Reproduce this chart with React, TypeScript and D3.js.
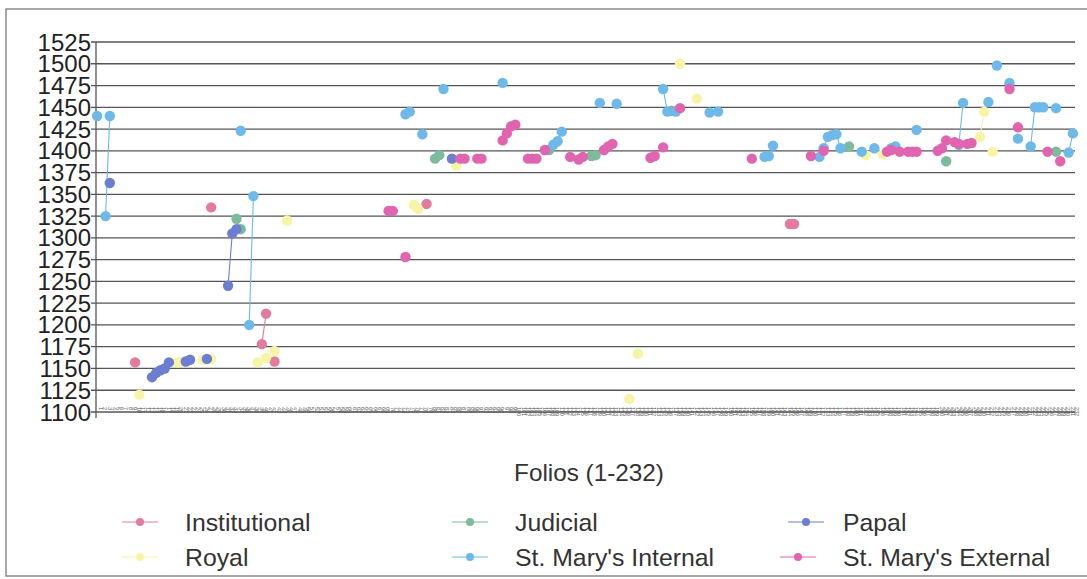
import React from "react";
import * as d3 from "d3";

// Folio numbers (1-232) and values
const folios: string[] = d3.range(1, 233).map(String);
const yTicks: number[] = d3.range(1100, 1526, 25);

const institutional: [number, number][] = [
  [10, 1157], [28, 1335], [40, 1178], [41, 1213], [43, 1158], [79, 1339], [165, 1316], [166, 1316],
];
const royal: [number, number][] = [
  [11, 1120], [20, 1157], [21, 1158], [26, 1160], [28, 1161], [39, 1157], [41, 1162], [43, 1170],
  [46, 1320], [76, 1338], [77, 1333], [86, 1383], [127, 1115], [129, 1167], [139, 1500], [143, 1460],
  [183, 1395], [187, 1396], [210, 1416], [211, 1445], [213, 1399],
];
const judicial: [number, number][] = [
  [34, 1322], [35, 1310], [81, 1391], [82, 1395], [108, 1401], [118, 1394], [119, 1395],
  [137, 1446], [179, 1405], [202, 1388], [228, 1399],
];
const papal: [number, number][] = [
  [4, 1363], [14, 1140], [15, 1145], [16, 1148], [17, 1150], [18, 1157], [22, 1158], [23, 1160],
  [27, 1161], [32, 1245], [33, 1305], [34, 1310], [85, 1391],
];
const stMarysInternal: [number, number][] = [
  [1, 1440], [3, 1325], [4, 1440], [35, 1423], [37, 1200], [38, 1348], [74, 1442], [75, 1445],
  [78, 1419], [83, 1471], [97, 1478], [109, 1407], [110, 1411], [111, 1422], [120, 1455], [124, 1454],
  [135, 1471], [136, 1445], [138, 1445], [146, 1444], [148, 1445], [159, 1393], [160, 1394], [161, 1406],
  [172, 1393], [173, 1403], [174, 1416], [175, 1418], [176, 1419], [177, 1403], [182, 1399], [185, 1403],
  [189, 1403], [190, 1405], [195, 1424], [205, 1407], [206, 1455], [212, 1456], [214, 1498], [217, 1478],
  [219, 1414], [222, 1405], [223, 1450], [224, 1450], [225, 1450], [228, 1449], [231, 1398], [232, 1420],
];
const stMarysExternal: [number, number][] = [
  [70, 1331], [71, 1331], [74, 1278], [87, 1391], [88, 1391], [91, 1391], [92, 1391], [97, 1412],
  [98, 1420], [99, 1428], [100, 1430], [103, 1391], [104, 1391], [105, 1391], [107, 1401], [113, 1393],
  [115, 1390], [116, 1393], [121, 1401], [122, 1405], [123, 1408], [132, 1392], [133, 1394], [135, 1404],
  [139, 1449], [156, 1391], [170, 1394], [173, 1400], [188, 1399], [189, 1401], [191, 1399], [193, 1399],
  [194, 1399], [195, 1399], [200, 1400], [201, 1403], [202, 1412], [204, 1410], [205, 1408], [207, 1408],
  [208, 1409], [217, 1471], [219, 1427], [226, 1399], [229, 1388],
];

const seriesNames = ["Institutional", "Royal", "Judicial", "St. Mary's Internal", "Papal", "St. Mary's External"];
const seriesData = [institutional, royal, judicial, stMarysInternal, papal, stMarysExternal];
const seriesColors = ["#e27c9a", "#f8f4a6", "#7cbb9c", "#6cb9ea", "#6c7ed2", "#e064b0"];

const FONT = "'Liberation Sans', Arial, sans-serif";

export default function App() {
  const x = d3.scalePoint<string>().domain(folios).range([95, 1075]).padding(0.5);
  const y = d3.scaleLinear().domain([1100, 1525]).range([412, 42]);

  const toFull = (pts: [number, number][]) => {
    const m = new Map(pts.map(([f, v]) => [f, v]));
    return folios.map((f) => ({ f, v: m.has(+f) ? (m.get(+f) as number) : null }));
  };
  const line = d3
    .line<{ f: string; v: number | null }>()
    .defined((d) => d.v !== null)
    .x((d) => x(d.f) as number)
    .y((d) => y(d.v as number));

  const legendOrder = [
    { s: 0, cx: 140, row: 0 },
    { s: 2, cx: 470, row: 0 },
    { s: 4, cx: 806, row: 0 },
    { s: 1, cx: 140, row: 1 },
    { s: 3, cx: 470, row: 1 },
    { s: 5, cx: 798, row: 1 },
  ];
  const textX = [185, 515, 843];

  return (
    <svg width={1087} height={579} style={{ position: "absolute", left: 0, top: 0, background: "#fff" }}>
      <rect x={6} y={9} width={1100} height={567} fill="#fff" stroke="#8a8a8a" strokeWidth={1.5} />
      {yTicks.map((t) => (
        <g key={t}>
          <line x1={91} x2={1075} y1={y(t)} y2={y(t)} stroke="#555" strokeWidth={1.3} />
          <text x={91} y={y(t) + 8.5} textAnchor="end" fontFamily={FONT} fontSize={24} fill="#222">
            {t}
          </text>
        </g>
      ))}
      <line x1={96} x2={96} y1={42} y2={418} stroke="#555" strokeWidth={1.3} />
      {folios.map((f) => (
        <text
          key={f}
          transform={`translate(${(x(f) as number) + 2},${407}) rotate(90)`}
          fontFamily={FONT}
          fontSize={5.5}
          fill="#555"
        >
          {f}
        </text>
      ))}
      {seriesData.map((pts, si) => (
        <g key={si}>
          <path d={line(toFull(pts)) || ""} fill="none" stroke={seriesColors[si]} strokeWidth={1.1} />
          {pts.map(([f, v]) => (
            <circle key={f} cx={x(String(f)) as number} cy={y(v)} r={5.2} fill={seriesColors[si]} />
          ))}
        </g>
      ))}
      <text x={589} y={481} textAnchor="middle" fontFamily={FONT} fontSize={24.3} fill="#333">
        Folios (1-232)
      </text>
      {legendOrder.map(({ s, cx, row }, k) => {
        const cy = 522 + row * 35;
        const col = k % 3;
        return (
          <g key={s}>
            <line x1={cx - 18} x2={cx + 18} y1={cy} y2={cy} stroke={seriesColors[s]} strokeWidth={1.2} />
            <circle cx={cx} cy={cy} r={4} fill={seriesColors[s]} />
            <text x={textX[col]} y={cy + 9} fontFamily={FONT} fontSize={24.8} fill="#333">
              {seriesNames[s]}
            </text>
          </g>
        );
      })}
    </svg>
  );
}
